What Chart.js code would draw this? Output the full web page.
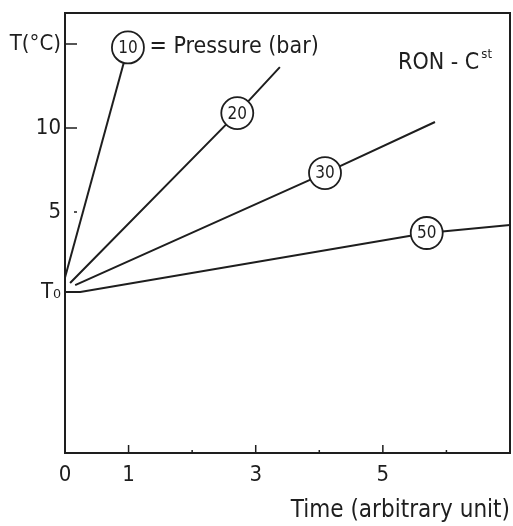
<!DOCTYPE html>
<html>
<head>
<meta charset="utf-8">
<script src="https://cdn.jsdelivr.net/npm/chart.js@4/dist/chart.umd.min.js"></script>
<style>
html,body{margin:0;padding:0;background:#fff}
</style>
</head>
<body>
<canvas id="c" width="513" height="526"></canvas>
<script>
// data (x = time, arbitrary unit; y = temperature rise)
var pressures = ['10', '20', '30', '50'];
var xTicks = [0, 1, 3, 5];
var xMinorTicks = [2, 4, 6];
var t0 = 0.24;
var yTicks = [t0, 5, 10, 15];
var yTickLabels = ['T\u2080', '5', '10', 'T(\u00b0C)'];

var time10 = [0, 0.99];
var temp10 = [1.1, 14.8];
var time20 = [0.08, 2.71, 3.38];
var temp20 = [0.77, 10.89, 13.63];
var time30 = [0.16, 4.09, 5.82];
var temp30 = [0.65, 7.32, 10.36];
var time50 = [0, 0.24, 5.69, 7];
var temp50 = [t0, t0, 3.75, 4.23];
// index of the point where the pressure circle sits
var circleAt = [1, 1, 1, 2];

var FONT = "'DejaVu Sans Condensed', 'Liberation Sans Narrow', sans-serif";
var INK = '#1e1e1e';

function pts(xs, ys){
	var out = [];
	for(let i=0;i<xs.length;i++) out.push({x: xs[i], y: ys[i]});
	return out;
}
function radii(n, k){
	var r = [];
	for(let i=0;i<n;i++) r.push(i == k ? 16 : 0);
	return r;
}

var series = [[time10, temp10], [time20, temp20], [time30, temp30], [time50, temp50]];
var datasets = [];
for(let i=0;i<series.length;i++){
	datasets.push({
		label: pressures[i] + ' bar',
		data: pts(series[i][0], series[i][1]),
		borderColor: INK,
		borderWidth: 2,
		pointRadius: radii(series[i][0].length, circleAt[i]),
		pointBackgroundColor: '#fff',
		pointBorderColor: INK,
		pointBorderWidth: 1.8,
		tension: 0
	});
}

var decorations = {
	id: 'decorations',
	beforeDatasetsDraw: function(chart){
		var ctx = chart.ctx, a = chart.chartArea;
		var xs = chart.scales.x, ys = chart.scales.y;
		ctx.save();
		ctx.strokeStyle = INK;
		ctx.lineWidth = 2;
		ctx.strokeRect(a.left, a.top, a.right - a.left, a.bottom - a.top);
		// inner ticks on the time axis
		ctx.lineWidth = 1.5;
		ctx.beginPath();
		[1, 3, 5].forEach(function(v){
			var px = xs.getPixelForValue(v);
			ctx.moveTo(px, a.bottom); ctx.lineTo(px, a.bottom - 8);
		});
		xMinorTicks.forEach(function(v){
			var px = xs.getPixelForValue(v);
			ctx.moveTo(px, a.bottom); ctx.lineTo(px, a.bottom - 3);
		});
		// inner ticks on the temperature axis
		[15, 10].forEach(function(v){
			var py = ys.getPixelForValue(v);
			ctx.moveTo(a.left, py); ctx.lineTo(a.left + 12, py);
		});
		var p5 = ys.getPixelForValue(5);
		ctx.moveTo(a.left + 9, p5); ctx.lineTo(a.left + 12, p5);
		ctx.stroke();
		ctx.restore();
	},
	afterDatasetsDraw: function(chart){
		var ctx = chart.ctx;
		var xs = chart.scales.x, ys = chart.scales.y;
		ctx.save();
		ctx.fillStyle = INK;
		ctx.textAlign = 'center';
		ctx.textBaseline = 'middle';
		ctx.font = '17px ' + FONT;
		for(let i=0;i<pressures.length;i++){
			var p = chart.getDatasetMeta(i).data[circleAt[i]];
			ctx.fillText(pressures[i], p.x, p.y + 1);
		}
		ctx.textAlign = 'left';
		ctx.font = '23px ' + FONT;
		ctx.fillText('= Pressure (bar)', xs.getPixelForValue(1.33), ys.getPixelForValue(14.8));
		var rx = xs.getPixelForValue(5.24), ry = ys.getPixelForValue(14.0);
		ctx.textBaseline = 'alphabetic';
		ctx.font = '23px ' + FONT;
		var w = ctx.measureText('RON - C').width;
		ctx.fillText('RON - C', rx, ry + 8);
		ctx.font = '13px ' + FONT;
		ctx.fillText('st', rx + w + 2, ry - 3);
		ctx.restore();
	}
};

new Chart(document.getElementById('c'), {
	type: 'line',
	data: {datasets: datasets},
	options: {
		responsive: false,
		animation: false,
		devicePixelRatio: 1,
		layout: {autoPadding: false, padding: {top: 13, right: 3, left: 0, bottom: 0}},
		plugins: {legend: {display: false}, tooltip: {enabled: false}},
		scales: {
			x: {
				type: 'linear', min: 0, max: 7,
				afterBuildTicks: function(axis){ axis.ticks = xTicks.map(function(v){ return {value: v}; }); },
				afterFit: function(axis){ axis.height = 73; axis.paddingLeft = 0; axis.paddingRight = 0; },
				grid: {display: false, drawTicks: false, tickLength: 0},
				border: {display: false},
				ticks: {color: INK, font: {family: FONT, size: 22}, padding: 9, maxRotation: 0},
				title: {display: true, text: 'Time (arbitrary unit)', align: 'end', color: INK,
					font: {family: FONT, size: 24}, padding: {top: 0, bottom: 1}}
			},
			y: {
				type: 'linear', min: -9.35, max: 16.85,
				afterBuildTicks: function(axis){ axis.ticks = yTicks.map(function(v){ return {value: v}; }); },
				afterFit: function(axis){ axis.width = 65; axis.paddingTop = 0; axis.paddingBottom = 0; },
				grid: {display: false, drawTicks: false, tickLength: 0},
				border: {display: false},
				ticks: {color: INK, font: {family: FONT, size: 22}, padding: 4,
					callback: function(v){ var k = yTicks.indexOf(v); return k < 0 ? '' : yTickLabels[k]; }}
			}
		}
	},
	plugins: [decorations]
});
</script>
</body>
</html>
